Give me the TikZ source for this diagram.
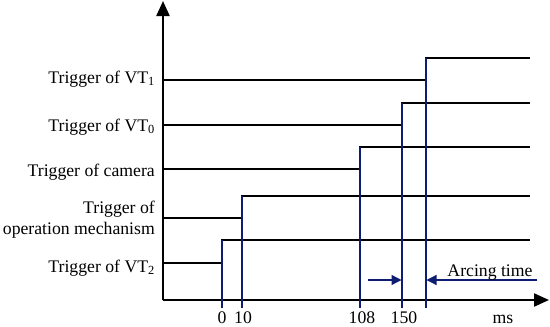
\documentclass[tikz,border=0pt]{standalone}
\usepackage{fontspec}
\setmainfont{Liberation Serif}
\usetikzlibrary{arrows.meta}
\definecolor{navy}{HTML}{0D1E72}
\begin{document}
\begin{tikzpicture}[x=1pt,y=-1pt,
  sig/.style={line width=2.2pt,black},
  axisline/.style={line width=2.2pt,black,-{Triangle[length=15pt,width=13pt]}},
  vmark/.style={line width=1.2pt,navy},
  arcarrow/.style={line width=1.2pt,navy,-{Triangle[length=10pt,width=10pt]}},
  lab/.style={font=\fontsize{17.7}{20}\selectfont,inner sep=0pt},
  ticklab/.style={font=\fontsize{17.7}{20}\selectfont,inner sep=0pt,anchor=base}]
\useasboundingbox (0,0) rectangle (550,327);
% axes
\coordinate (O) at (163,300);
\coordinate (Ytop) at (163,1);
\coordinate (Xend) at (549,300);
\draw[axisline] (O) -- (Ytop);
\draw[axisline] (O) -- (Xend);
% signals
\draw[sig] (163,80) -- (426,80) -- (426,58) -- (530,58);
\draw[sig] (163,125) -- (402,125) -- (402,103) -- (530,103);
\draw[sig] (163,169) -- (360,169) -- (360,147) -- (530,147);
\draw[sig] (163,218) -- (242,218) -- (242,196) -- (530,196);
\draw[sig] (163,263) -- (222,263) -- (222,240) -- (530,240);
% markers
\coordinate (m0t) at (222,240); \coordinate (m0b) at (222,308);
\coordinate (m10t) at (242,196); \coordinate (m10b) at (242,308);
\coordinate (m108t) at (360,147); \coordinate (m108b) at (360,308);
\coordinate (m150t) at (402,103); \coordinate (m150b) at (402,308);
\coordinate (m1t) at (426,58); \coordinate (m1b) at (426,308);
\draw[vmark] (m0t) -- (m0b);
\draw[vmark] (m10t) -- (m10b);
\draw[vmark] (m108t) -- (m108b);
\draw[vmark] (m150t) -- (m150b);
\draw[vmark] (m1t) -- (m1b);
% arcing time arrows
\coordinate (a1s) at (368,280); \coordinate (a1e) at (401.5,280);
\coordinate (a2s) at (537,280); \coordinate (a2e) at (426.5,280);
\draw[arcarrow] (a1s) -- (a1e);
\draw[arcarrow] (a2s) -- (a2e);
\node[lab,anchor=base] (arct) at (490,276) {Arcing time};
% labels
\node[lab,anchor=base east] (l1) at (155,83) {Trigger of VT\textsubscript{1}};
\node[lab,anchor=base east] (l0) at (155,131) {Trigger of VT\textsubscript{0}};
\node[lab,anchor=base east] (lc) at (155,176) {Trigger of camera};
\node[lab,anchor=base east] (lm1) at (155,213) {Trigger of};
\node[lab,anchor=base east] (lm2) at (155,234) {operation mechanism};
\node[lab,anchor=base east] (l2) at (155,272) {Trigger of VT\textsubscript{2}};
% ticks
\node[ticklab] (t0) at (222,323) {0};
\node[ticklab] (t10) at (243,323) {10};
\node[ticklab] (t108) at (362,323) {108};
\node[ticklab] (t150) at (404,323) {150};
\node[ticklab] (tms) at (503,323) {ms};
\end{tikzpicture}
\end{document}
